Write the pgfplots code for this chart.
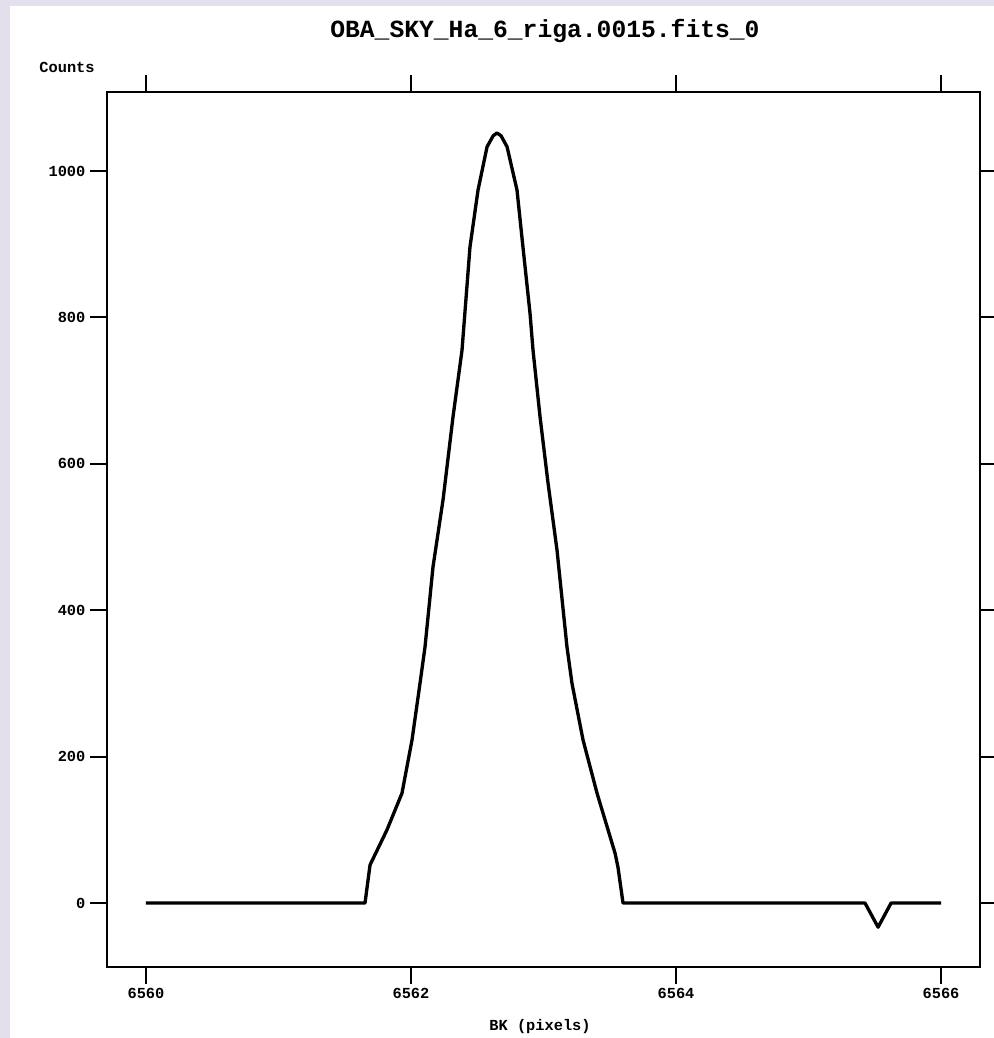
\documentclass[border=0pt]{standalone}
\usepackage{pgfplots}
\pgfplotsset{compat=1.18}
\usepackage{fontspec}
\setmainfont{Liberation Sans}
\setmonofont{Liberation Mono}
\definecolor{lav}{HTML}{E4DFEC}
\begin{document}
\begin{tikzpicture}
% page and panel, in pixels of the reference (1px = 0.75pt)
\useasboundingbox (-80.25pt,-53.25pt) rectangle (665.25pt,725.25pt);
\fill[lav] (-80.25pt,-53.25pt) rectangle (665.25pt,725.25pt);
\fill[white] (-72.75pt,-53.25pt) rectangle (665.25pt,720.75pt);
\begin{axis}[scale only axis,width=654.75pt,height=656.25pt,
  xmin=6559.706,xmax=6566.294,ymin=-87.4,ymax=1107.9,
  xtick={6560,6562,6564,6566},ytick={0,200,400,600,800,1000},
  xticklabels={6560,6562,6564,6566},
  tick align=outside,major tick length=12.75pt,
  tick style={black,line width=1.4pt},
  axis line style={line width=2.2pt},
  tick label style={font=\ttfamily\bfseries\fontsize{11.5}{13}\selectfont},
  /pgf/number format/assume math mode=true,
  /pgf/number format/1000 sep={},
  scaled ticks=false,clip=false]
\addplot[black,line width=2.5pt,line join=round] coordinates {
(6560,0) (6561.653,0) (6561.691,52) (6561.819,100) (6561.932,150)
(6562.008,223) (6562.068,300) (6562.106,350) (6562.166,459) (6562.242,551)
(6562.317,664) (6562.385,755) (6562.445,896) (6562.506,974) (6562.574,1033)
(6562.620,1048) (6562.649,1052) (6562.680,1048) (6562.725,1033) (6562.800,974) (6562.845,896) (6562.898,806)
(6562.921,755) (6562.974,664) (6563.034,574) (6563.102,482) (6563.177,350)
(6563.215,300) (6563.298,223) (6563.404,150) (6563.540,68) (6563.562,49)
(6563.600,0) (6565.426,0) (6565.525,-33) (6565.623,0) (6566,0)};
\node[font=\ttfamily\bfseries\fontsize{18.5}{22}\selectfont] at (rel axis cs:0.5017,1.0697) {OBA\_SKY\_Ha\_6\_riga.0015.fits\_0};
\node[font=\ttfamily\bfseries\fontsize{11.5}{13}\selectfont] at (rel axis cs:-0.0458,1.0286) {Counts};
\node[font=\ttfamily\bfseries\fontsize{11.5}{13}\selectfont] at (rel axis cs:0.496,-0.0686) {BK (pixels)};
\end{axis}
\end{tikzpicture}
\end{document}
